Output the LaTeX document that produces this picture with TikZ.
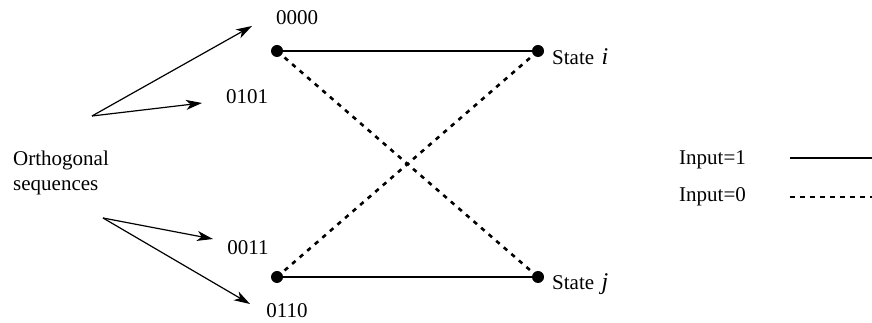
\documentclass[tikz,border=0pt]{standalone}
\usepackage{fontspec}
\setmainfont{Liberation Serif}
\usetikzlibrary{arrows.meta}
\begin{document}
\begin{tikzpicture}[x=1pt,y=1pt,
  dot/.style={circle,fill=black,inner sep=0pt,minimum size=12pt},
  lbl/.style={font=\fontsize{21}{25}\selectfont,inner sep=0pt},
  solidline/.style={line width=2.6pt},
  dotline/.style={line width=2.6pt,dash pattern=on 4.5pt off 5.5pt},
  arr/.style={line width=1.2pt,-{Stealth[length=16pt,width=10pt,inset=4.5pt]}}]
\useasboundingbox (0,0) rectangle (872,323);
% dots
\node[dot] (a) at (277,272) {};
\node[dot] (b) at (538,272) {};
\node[dot] (c) at (277,46) {};
\node[dot] (d) at (538,46) {};
% transitions
\draw[solidline] (a) -- (b);
\draw[solidline] (c) -- (d);
\draw[dotline] (a.center) -- (d.center);
\draw[dotline] (c.center) -- (b.center);
% labels
\node[lbl] (l0000) at (297,305) {0000};
\node[lbl] (l0101) at (247,226) {0101};
\node[lbl] (l0011) at (248,75) {0011};
\node[lbl] (l0110) at (287,12) {0110};
\node[lbl,anchor=west] (si) at (552,266) {State\hspace{0.35em}{\fontsize{24}{25}\selectfont\textit{i}}};
\node[lbl,anchor=west] (sj) at (552,39) {State\hspace{0.35em}{\fontsize{24}{25}\selectfont\textit{j}}};
\node[lbl,anchor=west,align=left] (orth) at (13,150) {Orthogonal\\sequences};
% arrows
\coordinate (s1) at (92,207);
\coordinate (t1) at (252,297);
\coordinate (t2) at (202,220);
\coordinate (s2) at (103,105);
\coordinate (t3) at (213,84);
\coordinate (t4) at (250,19);
\draw[arr] (s1) -- (t1);
\draw[arr] (s1) -- (t2);
\draw[arr] (s2) -- (t3);
\draw[arr] (s2) -- (t4);
% legend
\node[lbl,anchor=west] (in1) at (679,163) {Input=1};
\node[lbl,anchor=west] (in0) at (679,126) {Input=0};
\coordinate (l1a) at (790,165);
\coordinate (l1b) at (872,165);
\coordinate (l0a) at (790,126);
\coordinate (l0b) at (872,126);
\draw[solidline] (l1a) -- (l1b);
\draw[dotline] (l0a) -- (l0b);
\end{tikzpicture}
\end{document}
